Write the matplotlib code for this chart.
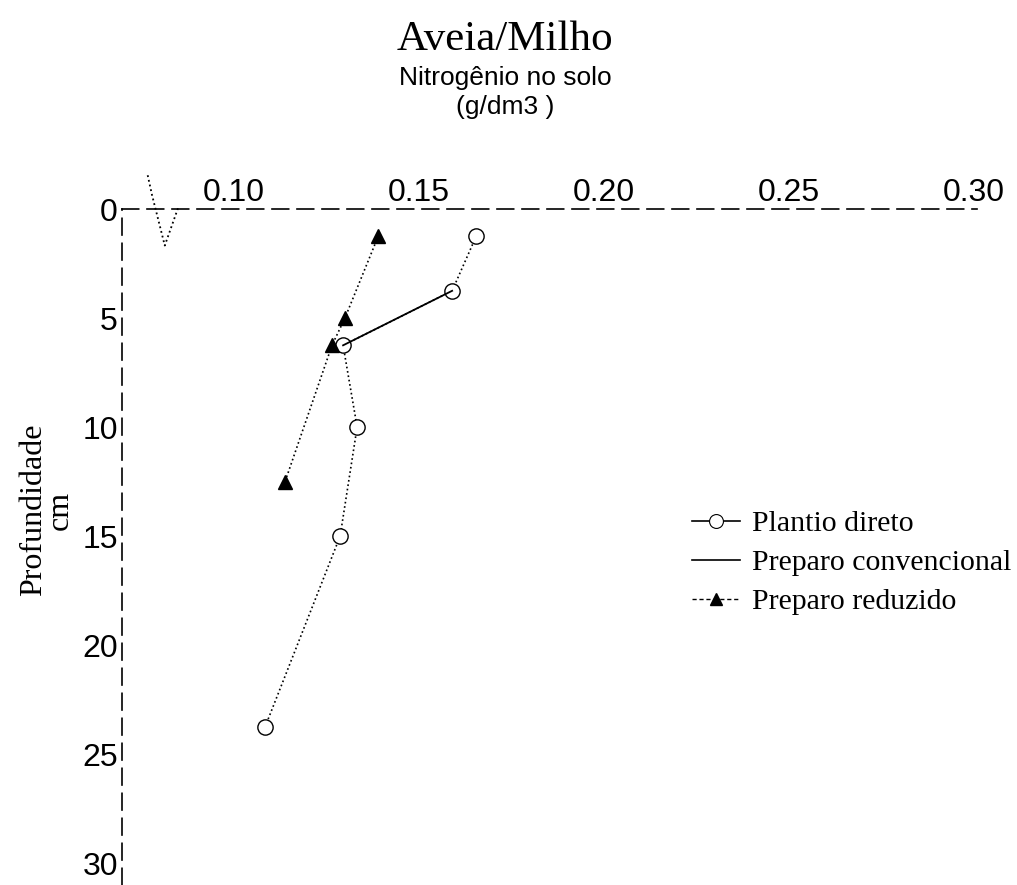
import matplotlib
matplotlib.use('Agg')
import matplotlib.pyplot as plt
from matplotlib.lines import Line2D

# dados (profundidade em cm, N em g/dm3)
depth_direto = [1.25, 3.75, 6.25, 10.0, 15.0, 23.75]
n_direto = [0.1655, 0.159, 0.1295, 0.1333, 0.1287, 0.1084]

depth_conv = [3.75, 6.25]
n_conv = [0.159, 0.1295]

depth_reduz = [1.25, 5.0, 6.25, 12.5]
n_reduz = [0.139, 0.130, 0.1265, 0.1138]

x_ticks = [0.10, 0.15, 0.20, 0.25, 0.30]
x_ticklabels = ['0.10', '0.15', '0.20', '0.25', '0.30']
y_ticks = [0, 5, 10, 15, 20, 25, 30]
y_ticklabels = ['0', '5', '10', '15', '20', '25', '30']

SANS = 'Liberation Sans'
SERIF = 'Liberation Serif'

fig = plt.figure(figsize=(10.17, 8.85), dpi=100)
ax = fig.add_axes([0.12, 0.0, 0.8407, 0.7638])

ax.plot(n_direto, depth_direto, color='black', linestyle=':', linewidth=1.2,
        marker='o', markersize=11, markerfacecolor='white', markeredgewidth=1.0)
ax.plot(n_conv, depth_conv, color='black', linestyle='-', linewidth=1.3)
ax.plot(n_reduz, depth_reduz, color='black', linestyle=':', linewidth=1.2,
        marker='^', markersize=10)

ax.set_xlim(0.0697, 0.301)
ax.set_ylim(31.0, 0)

ax.xaxis.tick_top()
ax.set_xticks(x_ticks)
ax.set_xticklabels(x_ticklabels, family=SANS, fontsize=23)
ax.set_yticks(y_ticks)
ax.set_yticklabels(y_ticklabels, family=SANS, fontsize=23)
ax.tick_params(axis='x', length=0, pad=1)
ax.tick_params(axis='y', length=0, pad=3)

for s in ('right', 'bottom'):
    ax.spines[s].set_visible(False)
for s in ('top', 'left'):
    ax.spines[s].set_linestyle((0, (10, 5)))
    ax.spines[s].set_linewidth(1.2)

# marca de quebra do eixo
ax.plot([0.030, 0.035, 0.050, 0.0655], [1.05, 1.021, 0.946, 1.0015],
        transform=ax.transAxes, clip_on=False, color='black',
        linestyle=':', linewidth=1.3)

fig.text(0.4966, 0.955, 'Aveia/Milho', family=SERIF, fontsize=31,
         ha='center', va='center')
fig.text(0.4966, 0.8955, 'Nitrogênio no solo\n(g/dm3 )', family=SANS,
         fontsize=19, ha='center', va='center', linespacing=1.3)
fig.text(0.046, 0.4237, 'Profundidade\ncm', family=SERIF, fontsize=23,
         rotation=90, ha='center', va='center', multialignment='center',
         linespacing=0.9)

handles = [
    Line2D([], [], color='black', linestyle='-', linewidth=1.2, marker='o',
           markersize=10, markerfacecolor='white', markeredgewidth=0.8),
    Line2D([], [], color='black', linestyle='-', linewidth=1.2),
    Line2D([], [], color='black', linestyle=(0, (3, 2)), linewidth=1.0,
           marker='^', markersize=8),
]
labels = ['Plantio direto', 'Preparo convencional', 'Preparo reduzido']
fig.legend(handles, labels, loc='center left', bbox_to_anchor=(0.654, 0.364),
           frameon=False, prop={'family': SERIF, 'size': 21.5},
           handlelength=1.6, handletextpad=0.4, labelspacing=0.4)

fig.savefig('out.png', dpi=100)
